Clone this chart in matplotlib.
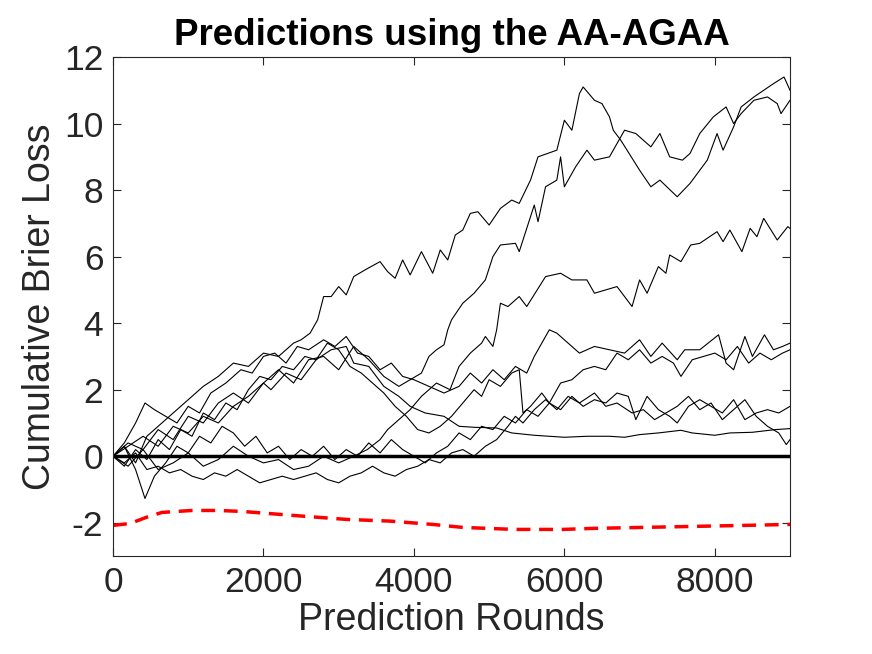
import numpy as np
import matplotlib
matplotlib.use("Agg")
import matplotlib.pyplot as plt

plt.rcParams['font.family'] = ['Liberation Sans', 'DejaVu Sans']
plt.rcParams['axes.unicode_minus'] = False

# rounds (x) and cumulative loss (y) for each expert
a_x = [0, 150, 300, 450, 600, 800, 1000, 1200, 1400, 1600, 1800, 2000, 2200, 2400, 2500, 2620, 2720, 2800, 2900, 3000, 3100, 3200, 3350, 3550, 3650, 3750, 3850, 3950, 4100, 4250, 4350, 4450, 4550, 4650, 4750, 4850, 5000, 5150, 5300, 5400, 5550, 5650, 5900, 6000, 6100, 6200, 6250, 6400, 6500, 6600, 6650, 6750, 7000, 7150, 7270, 7500, 7670, 7900, 8030, 8110, 8250, 8350, 8520, 8650, 8780, 8920, 9000]
a_y = [0, 0.3, -0.2, 0.6, 0.9, 1.3, 1.7, 2.1, 2.4, 2.8, 2.7, 3.1, 3.0, 3.4, 3.5, 3.7, 4.1, 4.8, 4.8, 5.1, 4.85, 5.4, 5.6, 5.85, 5.55, 5.35, 5.9, 5.45, 6.15, 5.5, 6.2, 5.9, 6.65, 6.8, 7.3, 7.35, 6.95, 7.45, 7.7, 7.6, 8.3, 9.0, 9.2, 10.1, 9.8, 10.9, 11.1, 10.7, 10.6, 10.2, 9.8, 9.5, 8.6, 8.1, 8.3, 7.8, 8.2, 8.9, 9.7, 9.2, 9.9, 10.5, 10.8, 11.0, 11.2, 11.4, 11.0]

b_x = [0, 200, 400, 600, 800, 1000, 1200, 1400, 1600, 1800, 2000, 2200, 2400, 2600, 2800, 3000, 3200, 3400, 3600, 3800, 3950, 4100, 4200, 4300, 4400, 4450, 4500, 4650, 4800, 4950, 5050, 5150, 5350, 5400, 5600, 5650, 5750, 5900, 5950, 6000, 6150, 6300, 6400, 6600, 6700, 6800, 6950, 7150, 7270, 7400, 7570, 7670, 7800, 7980, 8150, 8250, 8350, 8520, 8700, 8830, 8880, 9000]
b_y = [0, 0.4, 0.2, 0.8, 0.5, 1.2, 1.0, 1.6, 1.9, 1.6, 2.2, 2.6, 2.2, 2.9, 3.0, 2.6, 3.3, 2.9, 2.4, 2.1, 2.3, 2.5, 3.0, 3.2, 3.35, 3.8, 4.1, 4.6, 4.9, 5.3, 6.0, 6.35, 6.4, 6.15, 7.55, 7.05, 8.1, 8.3, 9.0, 8.1, 8.7, 9.2, 8.9, 9.0, 9.4, 9.8, 9.7, 9.3, 9.7, 9.0, 8.9, 9.1, 9.7, 10.2, 10.5, 10.0, 10.3, 10.7, 10.8, 10.6, 10.3, 10.7]

c_x = [0, 200, 400, 600, 800, 1000, 1200, 1400, 1600, 1800, 2000, 2200, 2400, 2600, 2800, 3000, 3200, 3380, 3550, 3650, 3800, 3950, 4100, 4300, 4480, 4600, 4750, 4900, 4950, 5050, 5100, 5150, 5250, 5400, 5500, 5750, 5950, 6100, 6300, 6400, 6550, 6700, 6900, 7000, 7100, 7250, 7350, 7400, 7550, 7680, 7800, 8030, 8110, 8200, 8360, 8470, 8560, 8650, 8830, 8970, 9000]
c_y = [0, -0.3, 0.2, -0.4, -0.2, 0.1, -0.3, -0.1, 0.3, 0.0, -0.2, -0.1, -0.4, -0.3, 0.0, -0.2, 0.0, 0.2, 0.5, 0.8, 1.1, 1.4, 1.8, 2.2, 2.0, 2.7, 3.1, 3.4, 3.6, 3.3, 3.8, 4.6, 4.5, 4.8, 4.5, 5.4, 5.5, 5.3, 5.3, 4.9, 5.0, 5.1, 4.5, 5.3, 4.9, 5.7, 5.5, 6.05, 5.85, 6.35, 6.4, 6.75, 6.45, 6.8, 6.15, 6.85, 6.6, 7.15, 6.5, 6.9, 6.85]

d_x = [0, 150, 300, 425, 550, 700, 850, 1000, 1150, 1300, 1500, 1700, 1850, 2000, 2150, 2300, 2450, 2600, 2800, 2950, 3100, 3250, 3400, 3550, 3700, 3850, 4000, 4200, 4400, 4600, 4750, 4900, 5050, 5200, 5350, 5500, 5600, 5800, 5900, 6050, 6200, 6400, 6600, 6800, 7000, 7150, 7300, 7500, 7600, 7800, 8050, 8150, 8250, 8400, 8500, 8660, 8780, 8900, 9000]
d_y = [0, 0.4, 1.0, 1.6, 1.4, 1.2, 1.0, 1.5, 1.3, 1.9, 2.2, 2.6, 2.5, 3.0, 3.1, 2.8, 3.3, 3.2, 3.5, 3.3, 3.6, 3.1, 3.0, 2.6, 2.8, 2.4, 2.3, 2.1, 1.9, 2.1, 2.5, 2.2, 2.6, 2.3, 2.7, 2.5, 3.0, 3.8, 3.7, 3.4, 3.1, 3.3, 3.2, 3.1, 3.5, 3.0, 3.4, 2.9, 3.2, 3.2, 3.65, 2.8, 2.6, 3.6, 3.0, 3.65, 3.2, 3.3, 3.4]

e_x = [0, 150, 300, 450, 600, 750, 900, 1050, 1200, 1350, 1500, 1650, 1800, 1950, 2100, 2250, 2400, 2550, 2700, 2850, 3000, 3150, 3300, 3450, 3600, 3750, 3900, 4050, 4200, 4350, 4500, 4650, 4800, 4900, 5000, 5150, 5300, 5400, 5450, 5550, 5700, 5800, 5950, 6100, 6250, 6400, 6550, 6700, 6850, 7000, 7150, 7300, 7450, 7550, 7700, 7850, 8000, 8150, 8300, 8450, 8600, 8750, 8900, 9000]
e_y = [0, -0.3, 0.2, -0.1, 0.5, 0.2, 0.8, 0.6, 1.3, 1.1, 1.6, 1.4, 2.0, 2.4, 2.3, 2.7, 2.6, 3.0, 2.9, 3.4, 3.2, 2.7, 2.5, 2.2, 1.9, 1.5, 1.2, 0.8, 0.7, 0.9, 1.2, 1.6, 2.0, 1.8, 2.3, 2.1, 2.5, 2.6, 1.3, 1.5, 1.9, 1.6, 2.2, 2.3, 2.6, 2.7, 2.6, 3.1, 2.9, 3.2, 2.8, 3.0, 2.8, 2.4, 2.9, 3.0, 3.1, 2.9, 3.3, 2.8, 3.1, 2.9, 3.1, 3.2]

f_x = [0, 150, 300, 425, 550, 700, 850, 1000, 1150, 1300, 1450, 1600, 1750, 1900, 2050, 2200, 2350, 2500, 2650, 2800, 2950, 3100, 3250, 3400, 3550, 3700, 3850, 4000, 4150, 4300, 4450, 4600, 4750, 4900, 5050, 5200, 5350, 5500, 5650, 5800, 5950, 6100, 6250, 6400, 6550, 6700, 6850, 6950, 7100, 7250, 7400, 7500, 7650, 7800, 7950, 8100, 8250, 8400, 8550, 8700, 8850, 9000]
f_y = [0, 0.3, -0.4, -1.27, -0.6, -0.2, 0.3, 0.1, 0.6, 0.4, 0.9, 0.7, 0.3, 0.6, 0.1, 0.3, -0.1, 0.2, 0.0, 0.3, -0.1, 0.2, 0.0, 0.4, 0.1, 0.5, 0.2, 0.0, -0.2, 0.1, 0.3, 0.7, 0.5, 0.9, 0.8, 1.2, 1.0, 1.4, 1.2, 1.6, 1.4, 1.8, 1.5, 1.7, 1.6, 1.9, 1.8, 1.1, 1.8, 1.4, 1.2, 1.0, 1.5, 1.7, 1.5, 1.3, 1.7, 1.1, 1.3, 1.4, 1.3, 1.5]

g_x = [0, 200, 400, 600, 800, 1000, 1200, 1400, 1600, 1800, 2000, 2100, 2300, 2500, 2700, 2900, 3100, 3200, 3400, 3600, 3800, 3950, 4150, 4400, 4600, 4800, 5100, 5300, 5600, 6000, 6300, 6600, 6800, 7000, 7250, 7550, 7700, 8000, 8200, 8500, 8800, 9000]
g_y = [0, 0.3, 0.6, 0.3, 0.9, 0.7, 1.2, 1.0, 1.5, 1.8, 2.2, 2.0, 2.5, 2.3, 2.9, 3.2, 3.3, 2.8, 2.7, 2.1, 1.8, 1.5, 1.3, 1.2, 0.9, 0.87, 0.85, 0.7, 0.63, 0.57, 0.6, 0.6, 0.57, 0.65, 0.7, 0.78, 0.7, 0.63, 0.7, 0.72, 0.8, 0.83]

h_x = [0, 150, 300, 450, 600, 750, 900, 1050, 1200, 1350, 1500, 1650, 1800, 1950, 2100, 2250, 2400, 2550, 2700, 2850, 3000, 3150, 3300, 3450, 3600, 3750, 3900, 4050, 4200, 4350, 4500, 4650, 4800, 4950, 5100, 5250, 5350, 5450, 5600, 5750, 5900, 6050, 6200, 6400, 6550, 6700, 6900, 7050, 7200, 7350, 7500, 7650, 7800, 7950, 8100, 8250, 8400, 8550, 8700, 8850, 8950, 9000]
h_y = [0, -0.2, 0.1, -0.4, -0.3, -0.5, -0.4, -0.6, -0.7, -0.5, -0.6, -0.4, -0.6, -0.8, -0.7, -0.6, -0.7, -0.6, -0.5, -0.7, -0.8, -0.6, -0.5, -0.3, -0.5, -0.6, -0.4, -0.3, -0.1, -0.2, 0.1, 0.2, 0.0, 0.3, 0.5, 0.9, 1.2, 1.0, 1.4, 1.7, 1.4, 1.8, 1.6, 1.9, 1.5, 1.6, 1.3, 1.4, 1.1, 1.3, 1.5, 1.8, 1.4, 1.6, 1.1, 1.4, 1.7, 1.2, 0.9, 0.7, 0.35, 0.5]

# theoretical bound (red dashed)
bound_x = [0, 230, 450, 650, 1050, 1400, 1720, 2060, 2400, 2750, 3110, 3680, 4250, 4650, 5340, 5980, 6360, 7030, 7700, 8370, 9000]
bound_y = [-2.08, -2.02, -1.83, -1.69, -1.63, -1.63, -1.66, -1.72, -1.78, -1.84, -1.9, -1.95, -2.05, -2.14, -2.2, -2.2, -2.17, -2.14, -2.11, -2.08, -2.05]

experts = [(a_x, a_y), (b_x, b_y), (c_x, c_y), (d_x, d_y),
           (e_x, e_y), (f_x, f_y), (g_x, g_y), (h_x, h_y)]

fig = plt.figure(figsize=(8.72, 6.54), dpi=100)
ax = fig.add_axes([0.1296, 0.1498, 0.7764, 0.763])

for xs, ys in experts:
    ax.plot(xs, ys, color='k', linewidth=0.8)
ax.plot([0, 9000], [0, 0], color='k', linewidth=2.5)
ax.plot(bound_x, bound_y, color='r', linestyle='--', linewidth=2.5, dashes=(4, 2.5))

ax.set_xlim(0, 9000)
ax.set_ylim(-3, 12)
ax.set_xticks([0, 2000, 4000, 6000, 8000])
ax.set_yticks([-2, 0, 2, 4, 6, 8, 10, 12])
ax.tick_params(direction='in', top=True, right=True, length=6, width=0.8,
               labelsize=25.5, colors='#262626', pad=7)
for s in ax.spines.values():
    s.set_color('#262626')
    s.set_linewidth(0.8)

ax.set_title('Predictions using the AA-AGAA', fontsize=26.5, fontweight='bold', pad=9)
ax.set_xlabel('Prediction Rounds', fontsize=27, color='#262626', labelpad=2)
ax.set_ylabel('Cumulative Brier Loss', fontsize=27, color='#262626', labelpad=4)

fig.savefig('out.png', dpi=100)
